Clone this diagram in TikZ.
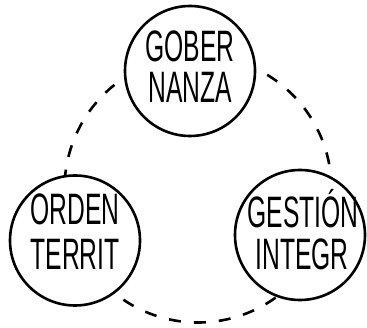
\documentclass[tikz,border=0pt]{standalone}
\usepackage{fontspec}
\newfontfamily\condfont[FakeStretch=0.56]{Liberation Sans}
\begin{document}
\begin{tikzpicture}[x=1pt,y=-1pt,
  circ/.style={circle,draw=black,fill=white,line width=2.6pt,minimum size=130pt,inner sep=0pt},
  lbl/.style={anchor=base,inner sep=0pt,font=\condfont\fontsize{44}{44}\selectfont},
  ring/.style={draw=black,line width=2.6pt,dash pattern=on 12pt off 13pt}]
\useasboundingbox (0,0) rectangle (367,328);
\coordinate (mid) at (198,189);
\draw[ring] (mid) circle[radius=133.5pt];
\node[circ] (gob) at (190,71) {};
\node[circ] (ord) at (75,240.5) {};
\node[circ] (ges) at (300,235) {};
\node[lbl] (gob1) at (190,62) {GOBER};
\node[lbl] (gob2) at (190,103) {NANZA};
\node[lbl] (ord1) at (75,225) {ORDEN};
\node[lbl] (ord2) at (75,270) {TERRIT};
\node[lbl] (ges1) at (303,228) {GESTIÓN};
\node[lbl] (ges2) at (302,270) {INTEGR};
\end{tikzpicture}
\end{document}
